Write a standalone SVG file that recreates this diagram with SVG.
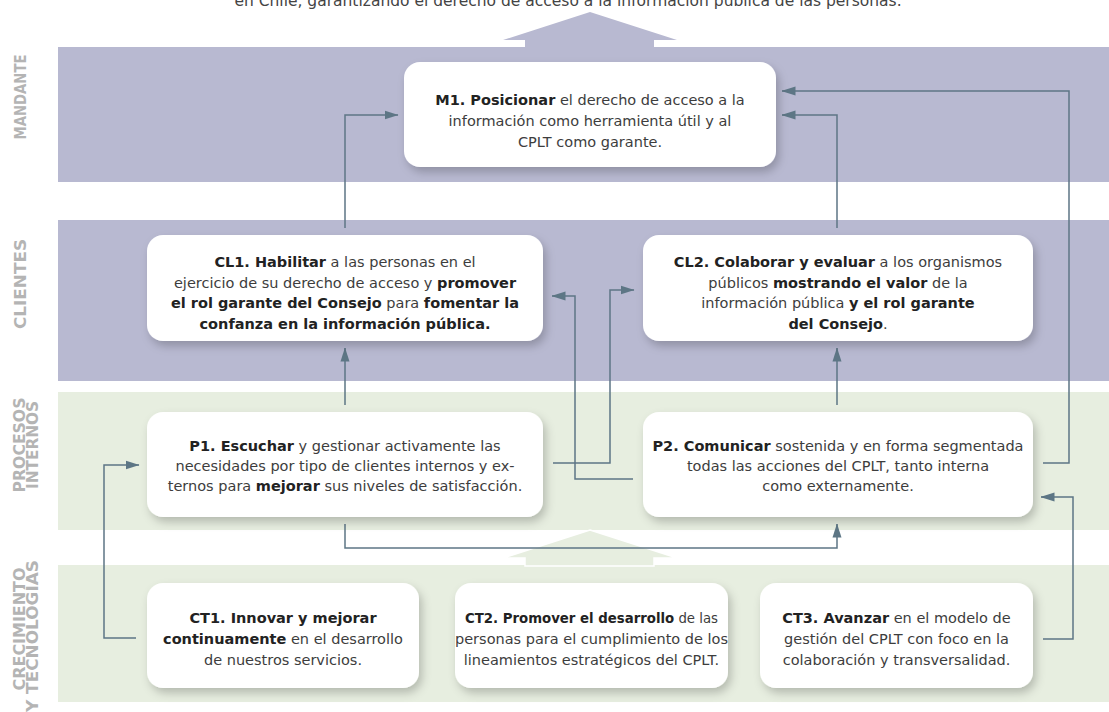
<svg xmlns="http://www.w3.org/2000/svg" width="1109" height="712" viewBox="0 0 1109 712">
<defs>
<style>
.bm{fill:#b8b9d1}
.bg{fill:#e7eee0}
.lbl{font-family:"DejaVu Sans","Liberation Sans",sans-serif;font-weight:bold;font-size:15px;fill:#b4b4b4;text-anchor:middle}
.box{fill:#ffffff;filter:url(#sh)}
.t{font-family:"DejaVu Sans","Noto Sans",sans-serif;font-size:14.5px;fill:#3d3d3d;text-anchor:middle}
.s{font-size:13.3px}
.b{font-weight:bold;fill:#222222}
.c{fill:none;stroke:#5d7685;stroke-width:1.5;marker-end:url(#ah)}
.top{font-family:"DejaVu Sans","Noto Sans",sans-serif;font-size:15.5px;fill:#444444;text-anchor:middle}
</style>
<filter id="sh" x="-10%" y="-20%" width="125%" height="150%">
<feDropShadow dx="3" dy="5" stdDeviation="5" flood-color="#000" flood-opacity="0.22"/>
</filter>
<marker id="ah" markerUnits="userSpaceOnUse" markerWidth="14" markerHeight="10" refX="13.5" refY="5" orient="auto">
<path d="M0,0.5 L14,5 L0,9.5 z" fill="#5d7685"/>
</marker>
</defs>
<rect width="1109" height="712" fill="#ffffff"/>
<text class="top" x="568" y="6">en Chile, garantizando el derecho de acceso a la información pública de las personas.</text>
<g id="bands">
<rect class="bm" x="58" y="47" width="1051" height="135"/>
<rect class="bm" x="58" y="220" width="1051" height="161"/>
<rect class="bg" x="58" y="392" width="1051" height="138"/>
<rect class="bg" x="58" y="565" width="1051" height="137"/>
<polygon fill="#b8b9d1" points="590,12 677,40 654,40 654,48 525,48 525,40 503,40"/>
<polygon fill="#e7eee0" stroke="#ffffff" stroke-width="1.5" points="590,530 677,558 654,558 654,566 525,566 525,558 503,558"/>
</g>
<g id="labels">
<text class="lbl" transform="translate(26,97) rotate(-90)" textLength="85" lengthAdjust="spacingAndGlyphs">MANDANTE</text>
<text class="lbl" transform="translate(26,284) rotate(-90)" textLength="90" lengthAdjust="spacingAndGlyphs">CLIENTES</text>
<text class="lbl" transform="translate(25,445) rotate(-90)" textLength="95" lengthAdjust="spacingAndGlyphs">PROCESOS</text>
<text class="lbl" transform="translate(38,445) rotate(-90)" textLength="88" lengthAdjust="spacingAndGlyphs">INTERNOS</text>
<text class="lbl" transform="translate(25,629) rotate(-90)" textLength="123" lengthAdjust="spacingAndGlyphs">CRECIMIENTO</text>
<text class="lbl" transform="translate(38,636) rotate(-90)" textLength="152" lengthAdjust="spacingAndGlyphs">Y TECNOLOGÍAS</text>
</g>
<g id="connectors">
<path class="c" d="M345,228 V115 H398"/>
<path class="c" d="M837,228 V115 H782"/>
<path class="c" d="M1043,463 H1069 V91 H782"/>
<path class="c" d="M345,405 V348"/>
<path class="c" d="M837,405 V348"/>
<path class="c" d="M553,463 H610 V290 H634"/>
<path class="c" d="M633,479 H575 V296 H552"/>
<path class="c" d="M345,524 V548 H837 V524"/>
<path class="c" d="M136,638 H104 V465 H139"/>
<path class="c" d="M1043,639 H1073 V497 H1041"/>
</g>
<g id="M1">
<rect class="box" x="404" y="62" width="372" height="105" rx="16"/>
<text class="t" x="590" y="105"><tspan class="b">M1. Posicionar</tspan> el derecho de acceso a la</text>
<text class="t" x="590" y="126">información como herramienta útil y al</text>
<text class="t" x="590" y="147">CPLT como garante.</text>
</g>
<g id="CL1">
<rect class="box" x="147" y="235" width="396" height="106" rx="16"/>
<text class="t" x="345" y="267"><tspan class="b">CL1. Habilitar</tspan> a las personas en el</text>
<text class="t" x="345" y="287.5">ejercicio de su derecho de acceso y <tspan class="b">promover</tspan></text>
<text class="t" x="345" y="308"><tspan class="b">el rol garante del Consejo</tspan> para <tspan class="b">fomentar la</tspan></text>
<text class="t" x="345" y="328.5"><tspan class="b">confanza en la información pública.</tspan></text>
</g>
<g id="CL2">
<rect class="box" x="643" y="235" width="390" height="106" rx="16"/>
<text class="t" x="838" y="267"><tspan class="b">CL2. Colaborar y evaluar</tspan> a los organismos</text>
<text class="t" x="838" y="287.5">públicos <tspan class="b">mostrando el valor</tspan> de la</text>
<text class="t" x="838" y="308">información pública <tspan class="b">y el rol garante</tspan></text>
<text class="t" x="838" y="328.5"><tspan class="b">del Consejo</tspan>.</text>
</g>
<g id="P1">
<rect class="box" x="147" y="412" width="396" height="105" rx="16"/>
<text class="t" x="345" y="451"><tspan class="b">P1. Escuchar</tspan> y gestionar activamente las</text>
<text class="t" x="345" y="471">necesidades por tipo de clientes internos y ex-</text>
<text class="t" x="345" y="491">ternos para <tspan class="b">mejorar</tspan> sus niveles de satisfacción.</text>
</g>
<g id="P2">
<rect class="box" x="643" y="412" width="390" height="105" rx="16"/>
<text class="t" x="838" y="451"><tspan class="b">P2. Comunicar</tspan> sostenida y en forma segmentada</text>
<text class="t" x="838" y="471">todas las acciones del CPLT, tanto interna</text>
<text class="t" x="838" y="491">como externamente.</text>
</g>
<g id="CT1">
<rect class="box" x="147" y="583" width="272" height="105" rx="16"/>
<text class="t" x="283" y="623"><tspan class="b">CT1. Innovar y mejorar</tspan></text>
<text class="t" x="283" y="644"><tspan class="b">continuamente</tspan> en el desarrollo</text>
<text class="t" x="283" y="665">de nuestros servicios.</text>
</g>
<g id="CT2">
<rect class="box" x="455" y="583" width="273" height="105" rx="16"/>
<text class="t s" x="591.5" y="623"><tspan class="b">CT2. Promover el desarrollo</tspan> de las</text>
<text class="t" x="591.5" y="644">personas para el cumplimiento de los</text>
<text class="t" x="591.5" y="665">lineamientos estratégicos del CPLT.</text>
</g>
<g id="CT3">
<rect class="box" x="760" y="583" width="273" height="105" rx="16"/>
<text class="t" x="896.5" y="623"><tspan class="b">CT3. Avanzar</tspan> en el modelo de</text>
<text class="t" x="896.5" y="644">gestión del CPLT con foco en la</text>
<text class="t" x="896.5" y="665">colaboración y transversalidad.</text>
</g>
</svg>
